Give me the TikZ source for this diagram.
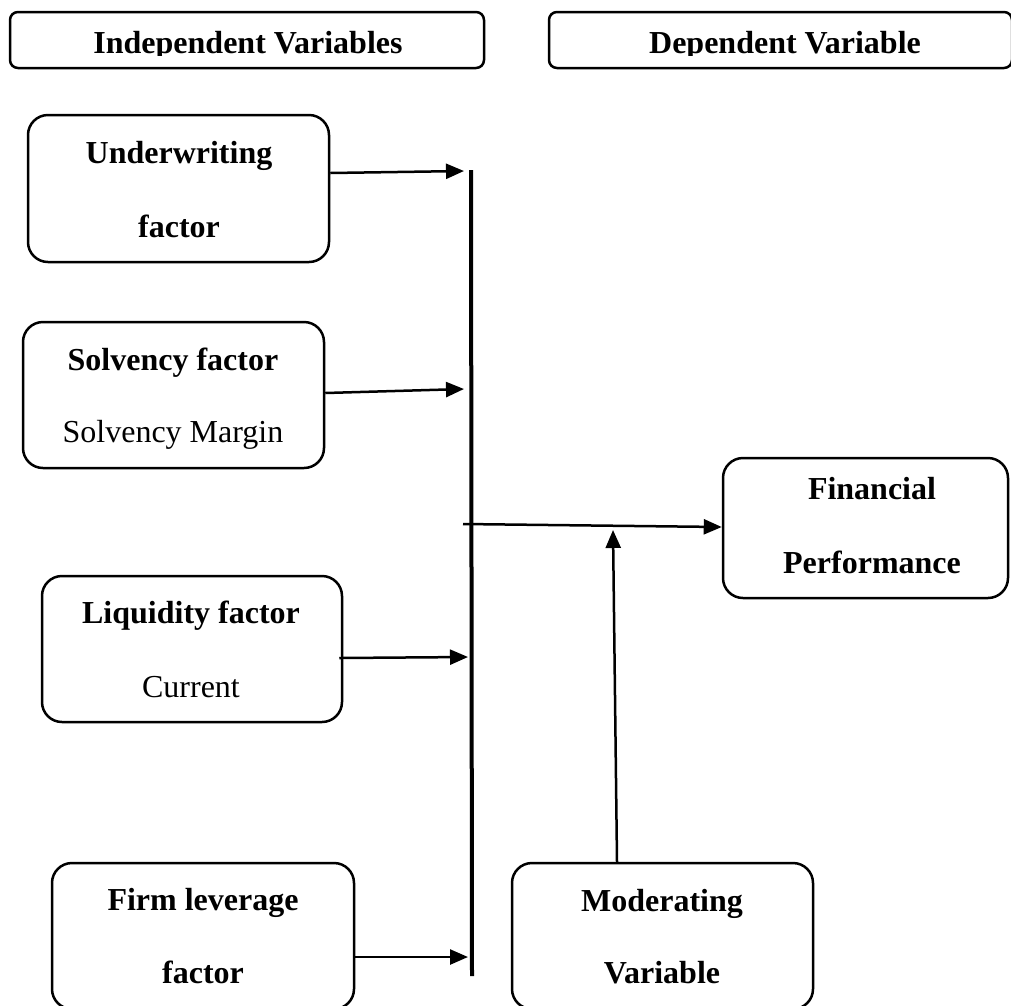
\documentclass[tikz,border=0pt]{standalone}
\usepackage{fontspec}
\setmainfont{Liberation Serif}
\usetikzlibrary{arrows.meta}
\begin{document}
\begin{tikzpicture}[x=1pt,y=-1pt,
  box/.style={draw,line width=2.5pt,rounded corners=20pt,inner sep=0pt},
  hbox/.style={draw,line width=2.5pt,rounded corners=8pt,inner sep=0pt},
  btxt/.style={anchor=base,inner sep=0pt,font=\fontsize{32}{38}\selectfont\bfseries},
  rtxt/.style={anchor=base,inner sep=0pt,font=\fontsize{32}{38}\selectfont},
  arr/.style={line width=2.5pt,-{Triangle[length=18pt,width=15pt]}},
  bar/.style={line width=4pt}]
\useasboundingbox (0,0) rectangle (1011,1005);
\clip (0,0) rectangle (1011,1005);
% header boxes
\node[hbox,minimum width=474pt,minimum height=56pt] (h1) at (247,40) {};
\node[hbox,minimum width=463pt,minimum height=56pt] (h2) at (780.5,40) {};
\begin{scope}
\clip (0,0) rectangle (1011,55);
\node[btxt] (h1t) at (248,53) {Independent Variables};
\node[btxt] (h2t) at (785,53) {Dependent Variable};
\end{scope}
% boxes
\node[box,minimum width=301pt,minimum height=147pt] (ub) at (178.5,188.5) {};
\node[btxt] (ub1) at (179,163) {Underwriting};
\node[btxt] (ub2) at (179,237) {factor};
\node[box,minimum width=301pt,minimum height=146pt] (sb) at (173.5,395) {};
\node[btxt] (sb1) at (173,370) {Solvency factor};
\node[rtxt] (sb2) at (173,442) {Solvency Margin};
\node[box,minimum width=300pt,minimum height=146pt] (lb) at (192,649) {};
\node[btxt] (lb1) at (191,623) {Liquidity factor};
\node[rtxt] (lb2) at (191,697) {Current};
\node[box,minimum width=302pt,minimum height=146pt] (fb) at (203,936) {};
\node[btxt] (fb1) at (203,910) {Firm leverage};
\node[btxt] (fb2) at (203,983) {factor};
\node[box,minimum width=301pt,minimum height=146pt] (mb) at (662.5,936) {};
\node[btxt] (mb1) at (662,911) {Moderating};
\node[btxt] (mb2) at (662,983) {Variable};
\node[box,minimum width=285pt,minimum height=140pt] (pb) at (865.5,528) {};
\node[btxt] (pb1) at (872,499) {Financial};
\node[btxt] (pb2) at (872,573) {Performance};
% bar
\coordinate (bt) at (471,170);
\coordinate (bb) at (472,976);
\draw[bar] (bt) -- (bb);
% arrows
\coordinate (s1) at (0,173); \coordinate (t1) at (464,171);
\coordinate (s2) at (0,393); \coordinate (t2) at (464,389);
\coordinate (s3) at (0,658); \coordinate (t3) at (468,657);
\coordinate (s4) at (0,957); \coordinate (t4) at (468,957);
\coordinate (s5) at (463,524); \coordinate (t5) at (0,527);
\coordinate (t6) at (613,530); \coordinate (s6) at (617,0);
\draw[arr] (ub.east |- s1) -- (t1);
\draw[arr] (sb.east |- s2) -- (t2);
\draw[arr] ([xshift=-4pt]lb.east |- s3) -- (t3);
\draw[arr] (fb.east |- s4) -- (t4);
\draw[arr] (s5) -- (pb.west |- t5);
\draw[arr] (s6 |- mb.north) -- (t6);
\end{tikzpicture}
\end{document}
